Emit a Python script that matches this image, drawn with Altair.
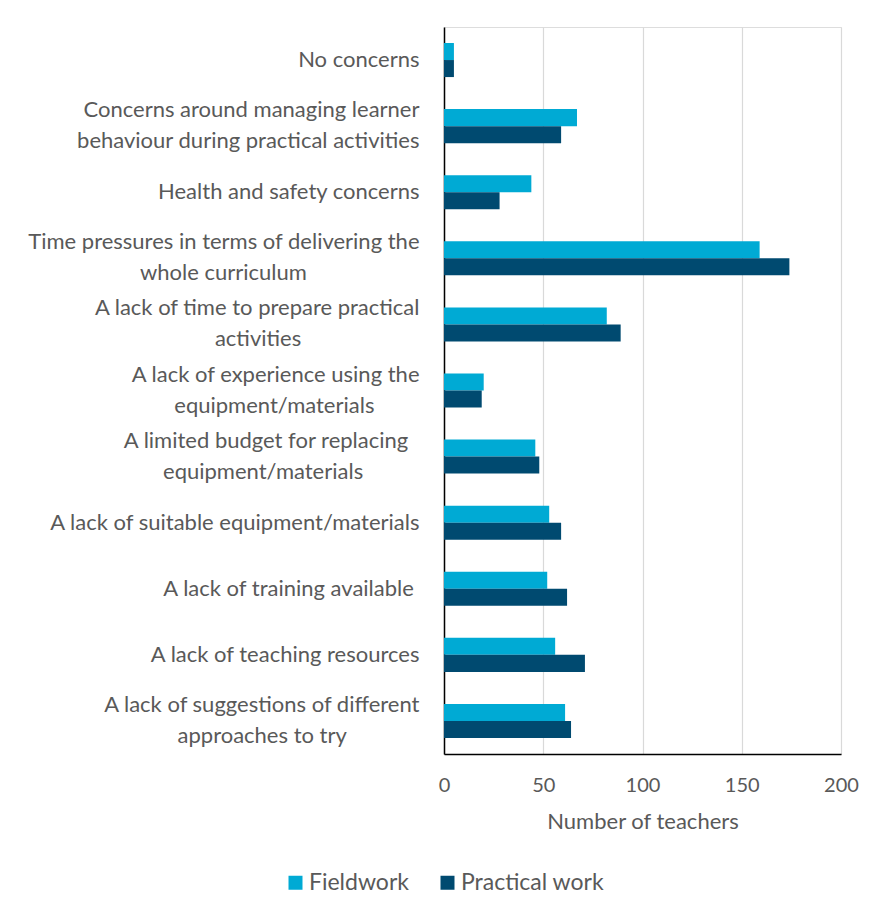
import altair as alt
import pandas as pd

NB = "\u00a0"
ZW = "\u200b"


def pad(text, n):
    return text + NB * n + ZW if n else text


categories = [
    "No concerns",
    "Concerns around managing learner|behaviour during practical activities",
    "Health and safety concerns",
    "Time pressures in terms of delivering the|" + pad("whole curriculum", 20),
    "A lack of time to prepare practical|" + pad("activities", 21),
    "A lack of experience using the|" + pad("equipment/materials", 8),
    pad("A limited budget for replacing", 2) + "|" + pad("equipment/materials", 10),
    "A lack of suitable equipment/materials",
    pad("A lack of training available", 1),
    "A lack of teaching resources",
    "A lack of suggestions of different|" + pad("approaches to try", 13),
]
fieldwork = [5, 67, 44, 159, 82, 20, 46, 53, 52, 56, 61]
practical = [5, 59, 28, 174, 89, 19, 48, 59, 62, 71, 64]
series = ["Fieldwork", "Practical work"]
colors = ["#00AAD4", "#004A70"]

rows = []
for c, f, p in zip(categories, fieldwork, practical):
    rows.append({"concern": c, "series": series[0], "teachers": f})
    rows.append({"concern": c, "series": series[1], "teachers": p})
df = pd.DataFrame(rows)

FONT = "Lato"
GREY = "#595959"

chart = (
    alt.Chart(df)
    .mark_bar()
    .encode(
        y=alt.Y(
            "concern:N",
            sort=categories,
            title=None,
            scale=alt.Scale(paddingInner=0.485, paddingOuter=0.2425),
            axis=alt.Axis(
                labelExpr="split(datum.label, '|')",
                labelFont=FONT,
                labelFontSize=22,
                labelColor=GREY,
                labelLineHeight=31,
                labelPadding=25,
                labelLimit=500,
                labelBaseline={
                    "condition": {
                        "test": "indexof(datum.value, '|') >= 0",
                        "value": "line-bottom",
                    },
                    "value": "middle",
                },
                ticks=False,
                tickSize=0,
                domain=True,
                domainColor="#000000",
                domainWidth=1.5,
                grid=False,
            ),
        ),
        yOffset=alt.YOffset("series:N", sort=series),
        x=alt.X(
            "teachers:Q",
            scale=alt.Scale(domain=[0, 200], nice=False),
            axis=alt.Axis(
                values=[0, 50, 100, 150, 200],
                title="Number of teachers",
                titleFont=FONT,
                titleFontSize=22,
                titleFontWeight="normal",
                titleColor=GREY,
                titleBaseline="alphabetic",
                titleY=74,
                labelFont=FONT,
                labelFontSize=20,
                labelColor=GREY,
                labelPadding=21,
                labelFlush=False,
                ticks=False,
                tickSize=0,
                domain=True,
                domainColor="#000000",
                domainWidth=1.5,
                grid=True,
                gridColor="#d9d9d9",
                gridWidth=1.2,
            ),
        ),
        color=alt.Color(
            "series:N",
            sort=series,
            scale=alt.Scale(domain=series, range=colors),
            legend=alt.Legend(
                title=None,
                orient="none",
                direction="horizontal",
                legendX=-160,
                legendY=844,
                symbolType="square",
                symbolSize=196,
                symbolStrokeWidth=0,
                labelFont=FONT,
                labelFontSize=23,
                labelColor=GREY,
                labelOffset=2,
                columnPadding=27,
                padding=0,
            ),
        ),
    )
    .properties(
        width=397,
        height=727,
        autosize=alt.AutoSizeParams(type="none"),
        padding={"left": 444, "top": 27, "right": 30, "bottom": 158},
    )
    .configure_view(stroke=None)
    .configure(background="#ffffff")
)

chart.save("out.html", embed_options={"renderer": "svg", "actions": False})
